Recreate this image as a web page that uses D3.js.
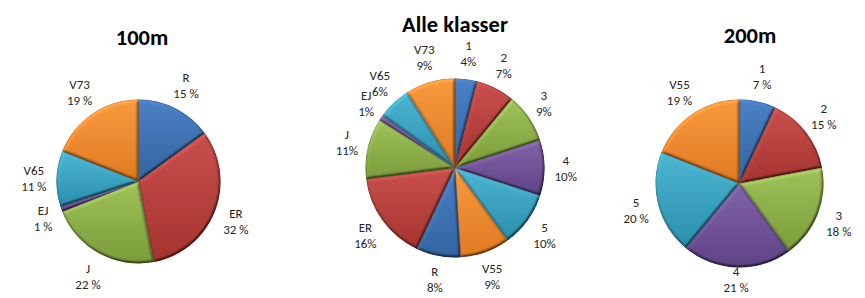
<!DOCTYPE html>
<html>
<head>
<meta charset="utf-8">
<script src="https://cdn.jsdelivr.net/npm/d3@7"></script>
<style>
  body { margin: 0; background: #fff; }
  text { font-family: Carlito, Calibri, Lato, sans-serif; }
</style>
</head>
<body>
<div id="chart"></div>
<script>
// values (percent)
const pie100Labels = ["R", "ER", "J", "EJ", "V65", "V73"];
const pie100Values = [15, 32, 22, 1, 11, 19];

const pieAllLabels = ["1", "2", "3", "4", "5", "V55", "R", "ER", "J", "EJ", "V65", "V73"];
const pieAllValues = [4, 7, 9, 10, 10, 9, 8, 16, 11, 1, 6, 9];

const pie200Labels = ["1", "2", "3", "4", "5", "V55"];
const pie200Values = [7, 15, 18, 21, 20, 19];

// blue, red, green, purple, aqua, orange (top / bottom of the shading)
const colorsTop = ["#4a80c5", "#c8504c", "#a0c25a", "#8264a8", "#4cb5d2", "#f89a3e"];
const colorsBottom = ["#33649f", "#a5332f", "#7a9c3a", "#5e4385", "#2a8fae", "#e07a22"];

const width = 865, height = 298;

const svg = d3.select("#chart").append("svg")
    .attr("width", width)
    .attr("height", height);

const defs = svg.append("defs");

// bevel look of the Excel slices
const bevel = defs.append("filter")
    .attr("id", "bevel")
    .attr("x", "-5%").attr("y", "-5%")
    .attr("width", "110%").attr("height", "110%");
bevel.append("feGaussianBlur")
    .attr("in", "SourceAlpha")
    .attr("stdDeviation", 1.6)
    .attr("result", "b");
bevel.append("feDiffuseLighting")
    .attr("in", "b")
    .attr("surfaceScale", 4)
    .attr("diffuseConstant", 1)
    .attr("lighting-color", "#fff")
    .attr("result", "l")
  .append("feDistantLight")
    .attr("azimuth", 240)
    .attr("elevation", 50);
bevel.append("feComposite")
    .attr("in", "SourceGraphic")
    .attr("in2", "l")
    .attr("operator", "arithmetic")
    .attr("k1", 1).attr("k2", 0.234).attr("k3", 0).attr("k4", 0)
    .attr("result", "lit");
bevel.append("feComposite")
    .attr("in", "lit")
    .attr("in2", "SourceAlpha")
    .attr("operator", "in");

colorsTop.forEach((c, i) => {
    const g = defs.append("linearGradient")
        .attr("id", "grad" + i)
        .attr("x1", 0).attr("y1", 0)
        .attr("x2", 0).attr("y2", 1);
    g.append("stop").attr("offset", "0%").attr("stop-color", c);
    g.append("stop").attr("offset", "100%").attr("stop-color", colorsBottom[i]);
});

const charts = [
    { title: "100m", labels: pie100Labels, values: pie100Values, sep: " %",
      cx: 138.5, cy: 181.5, r: 82, tx: 142, ty: 45 },
    { title: "Alle klasser", labels: pieAllLabels, values: pieAllValues, sep: "%",
      cx: 455, cy: 168, r: 89.5, tx: 455, ty: 32 },
    { title: "200m", labels: pie200Labels, values: pie200Values, sep: " %",
      cx: 739.5, cy: 183.5, r: 84, tx: 750, ty: 43 }
];

const pie = d3.pie().sort(null).value(d => d.value);
const nCol = colorsTop.length;

charts.forEach(ch => {
    const data = ch.labels.map((l, i) => ({ label: l, value: ch.values[i], idx: i }));
    const arcs = pie(data);
    const arc = d3.arc().innerRadius(0).outerRadius(ch.r);

    const g = svg.append("g")
        .attr("transform", `translate(${ch.cx},${ch.cy})`);

    g.selectAll("path")
        .data(arcs)
        .enter().append("path")
        .attr("d", arc)
        .attr("fill", d => `url(#grad${d.data.idx % nCol})`)
        .attr("stroke", d => d3.color(colorsBottom[d.data.idx % nCol]).darker(0.8))
        .attr("stroke-width", 0.4)
        .attr("filter", "url(#bevel)");

    svg.append("text")
        .attr("x", ch.tx)
        .attr("y", ch.ty)
        .attr("text-anchor", "middle")
        .style("font-size", "22.5px")
        .style("font-weight", "bold")
        .style("fill", "#000")
        .text(ch.title);

    // outside-end labels: box pushed just past the rim along the mid angle
    const gap = 10, lineH = 16;
    const lab = g.selectAll("text.lab")
        .data(arcs)
        .enter().append("text")
        .attr("class", "lab")
        .attr("text-anchor", "middle")
        .style("font-size", "13px")
        .style("fill", "#262626");
    lab.append("tspan").attr("x", 0).attr("dy", 0).text(d => d.data.label);
    lab.append("tspan").attr("x", 0).attr("dy", lineH).text(d => d.data.value + ch.sep);

    lab.each(function(d) {
        const bb = this.getBBox();
        const a = (d.startAngle + d.endAngle) / 2;
        const s = Math.sin(a), c = -Math.cos(a);
        const w = bb.width, h = lineH * 2;
        const px = (ch.r + gap) * s + s * w / 2;
        let py = (ch.r + gap) * c + c * h / 2;
        // keep the label inside the chart area
        py = Math.min(py, height - 19 - ch.cy);
        d3.select(this).attr("transform", `translate(${px},${py - lineH / 2 + 4.5})`);
    });
});
</script>
</body>
</html>
